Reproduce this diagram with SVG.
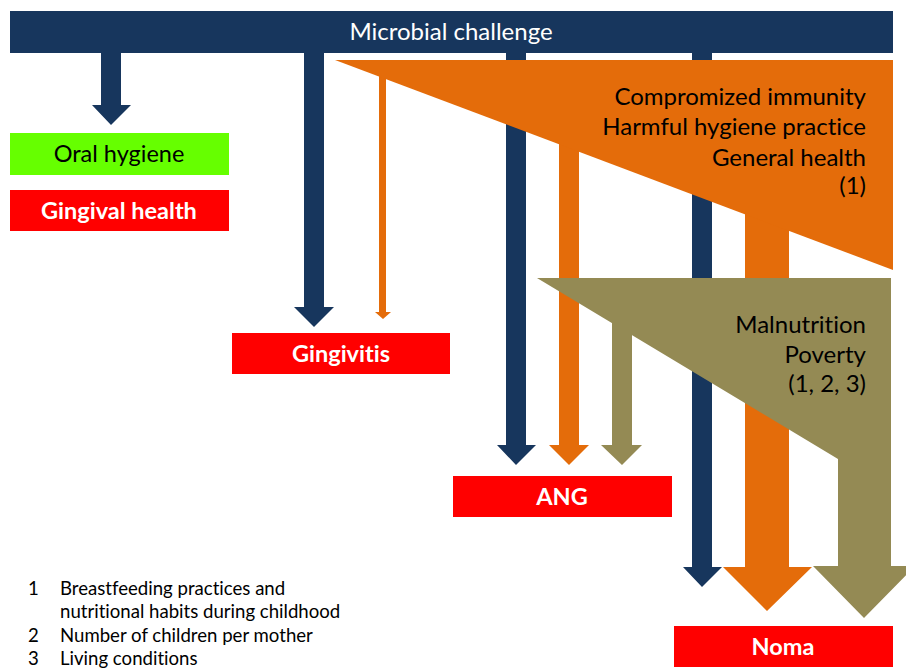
<svg xmlns="http://www.w3.org/2000/svg" width="906" height="668" viewBox="0 0 906 668">
<style>
text{font-family:Lato,"Open Sans","Liberation Sans",sans-serif;font-variant-ligatures:none}
.navy{fill:#17365d}
.orange{fill:#e46c0a}
.olive{fill:#948a54}
.red{fill:#ff0000}
.green{fill:#66ff00}
.lbl{font-size:23.5px;text-anchor:middle}
.wb{fill:#ffffff;font-weight:bold}
.fac{font-size:24px;text-anchor:end;fill:#000}
.leg{font-size:18.6px;fill:#000}
</style>
<rect width="906" height="668" fill="#ffffff"/>
<g id="connectors">
<g id="navy-arrows" class="navy">
<polygon points="101,53 121,53 121,105 131,105 111,125 92,105 101,105"/>
<polygon points="304,53 324,53 324,307 334,307 314,327 294,307 304,307"/>
<polygon points="506,53 526,53 526,445 536,445 516,465 497,445 506,445"/>
<polygon points="692,53 712,53 712,567 722,567 702,587 683,567 692,567"/>
</g>
<g id="orange-arrows" class="orange">
<polygon points="379,75 386,75 386,312 391,312 383,319 375,312 379,312"/>
<polygon points="559,130 579,130 579,445 589,445 569,465 549,445 559,445"/>
<polygon points="745,200 789,200 789,567 812,567 767,611 723,567 745,567"/>
</g>
</g>
<g id="microbial-challenge">
<rect class="navy" x="10" y="11" width="883" height="42"/>
<text x="451" y="40" font-size="24" text-anchor="middle" fill="#ffffff">Microbial challenge</text>
</g>
<g id="factors-1">
<polygon class="orange" points="335,60 893,60 893,270"/>
<text class="fac" x="866" y="105">Compromized immunity</text>
<text class="fac" x="866" y="135">Harmful hygiene practice</text>
<text class="fac" x="866" y="166">General health</text>
<text class="fac" x="866" y="194">(1)</text>
</g>
<g id="factors-2">
<polygon class="olive" points="537,278 891,278 891,566 915,566 864,618 813,566 838,566 838,459"/>
<polygon class="olive" points="612,315 632,315 632,445 642,445 622,465 601,445 612,445"/>
<text class="fac" x="866" y="333">Malnutrition</text>
<text class="fac" x="866" y="363">Poverty</text>
<text class="fac" x="866" y="392">(1, 2, 3)</text>
</g>
<g id="oral-hygiene">
<rect class="green" x="10" y="133" width="219" height="42"/>
<text class="lbl" x="119" y="162" fill="#000">Oral hygiene</text>
</g>
<g id="gingival-health">
<rect class="red" x="10" y="190" width="219" height="41"/>
<text class="lbl wb" x="119" y="219">Gingival health</text>
</g>
<g id="gingivitis">
<rect class="red" x="232" y="333" width="218" height="41"/>
<text class="lbl wb" x="341" y="362">Gingivitis</text>
</g>
<g id="ang">
<rect class="red" x="453" y="476" width="219" height="41"/>
<text class="lbl wb" x="562" y="505">ANG</text>
</g>
<g id="noma">
<rect class="red" x="674" y="626" width="219" height="41"/>
<text class="lbl wb" x="783" y="655">Noma</text>
</g>
<g id="legend">
<text class="leg" x="28" y="595">1</text>
<text class="leg" x="60" y="595">Breastfeeding practices and</text>
<text class="leg" x="60" y="618">nutritional habits during childhood</text>
<text class="leg" x="28" y="642">2</text>
<text class="leg" x="60" y="642">Number of children per mother</text>
<text class="leg" x="28" y="665">3</text>
<text class="leg" x="60" y="665">Living conditions</text>
</g>
</svg>
